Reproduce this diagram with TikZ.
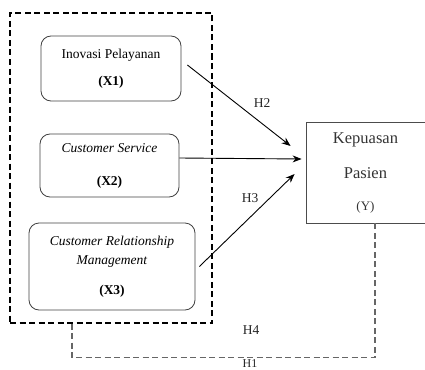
\documentclass[tikz,border=0pt]{standalone}
\usepackage{fontspec}
\setmainfont{Liberation Serif}
\usetikzlibrary{arrows.meta}

\begin{document}
\begin{tikzpicture}
  [x=1pt,y=-1pt,
   var/.style={draw=black!75,line width=.8pt,rounded corners=10pt,align=center,
     inner sep=0pt,font=\fontsize{13.5}{16}\selectfont},
   dep/.style={draw=black!70,line width=.8pt,align=center,inner sep=0pt,
     font=\fontsize{16.5}{19}\selectfont,text=black!80},
   arr/.style={-{Stealth[length=9pt,width=7pt]},line width=.9pt},
   hyp/.style={font=\fontsize{13.5}{16}\selectfont,text=black!85,inner sep=0pt}]
  \useasboundingbox (0,0) rectangle (425,369);

  % framing of the independent variables
  \node (frame) [draw,dashed,line width=1.1pt,dash pattern=on 6pt off 3.5pt,
    minimum width=202pt,minimum height=310pt,inner sep=0pt] at (111,168) {};

  \node (x1) [var,minimum width=140pt,minimum height=65pt] at (111,68.5)
    {Inovasi Pelayanan\\[11pt]\textbf{(X1)}};
  \node (x2) [var,minimum width=139pt,minimum height=63pt] at (109.5,165.5)
    {\textit{Customer Service}\\[17pt]\textbf{(X2)}};
  \node (x3) [var,minimum width=166pt,minimum height=87pt] at (112,266.5)
    {\textit{Customer Relationship}\\[3pt]\textit{Management}\\[14pt]\textbf{(X3)}};
  \node (y)  [dep,minimum width=119pt,minimum height=101pt] at (365.5,172.5)
    {Kepuasan\\[16pt]Pasien\\[13pt]{\fontsize{13}{15}\selectfont(Y)}};

  \draw[arr] ([shift={(6pt,3.5pt)}]x1.east) -- ([shift={(-15pt,26.5pt)}]y.west);
  \draw[arr] ([yshift=7.5pt]x2.east) -- ([shift={(-4pt,13.5pt)}]y.west);
  \draw[arr] ([xshift=4pt]x3.east) -- ([shift={(-11pt,-1.5pt)}]y.west);

  \draw[line width=1.1pt,black!60,dash pattern=on 6pt off 3.5pt]
    ([xshift=-39pt]frame.south) -- ++(0,34) -| ([xshift=9.5pt]y.south);

  \node (h2) [hyp] at (262,103) {H2};
  \node (h3) [hyp] at (250,198) {H3};
  \node (h4) [hyp] at (251,330) {H4};
  \node (h1) [hyp,font=\fontsize{12}{14}\selectfont] at (250,363.5) {H1};
\end{tikzpicture}
\end{document}
